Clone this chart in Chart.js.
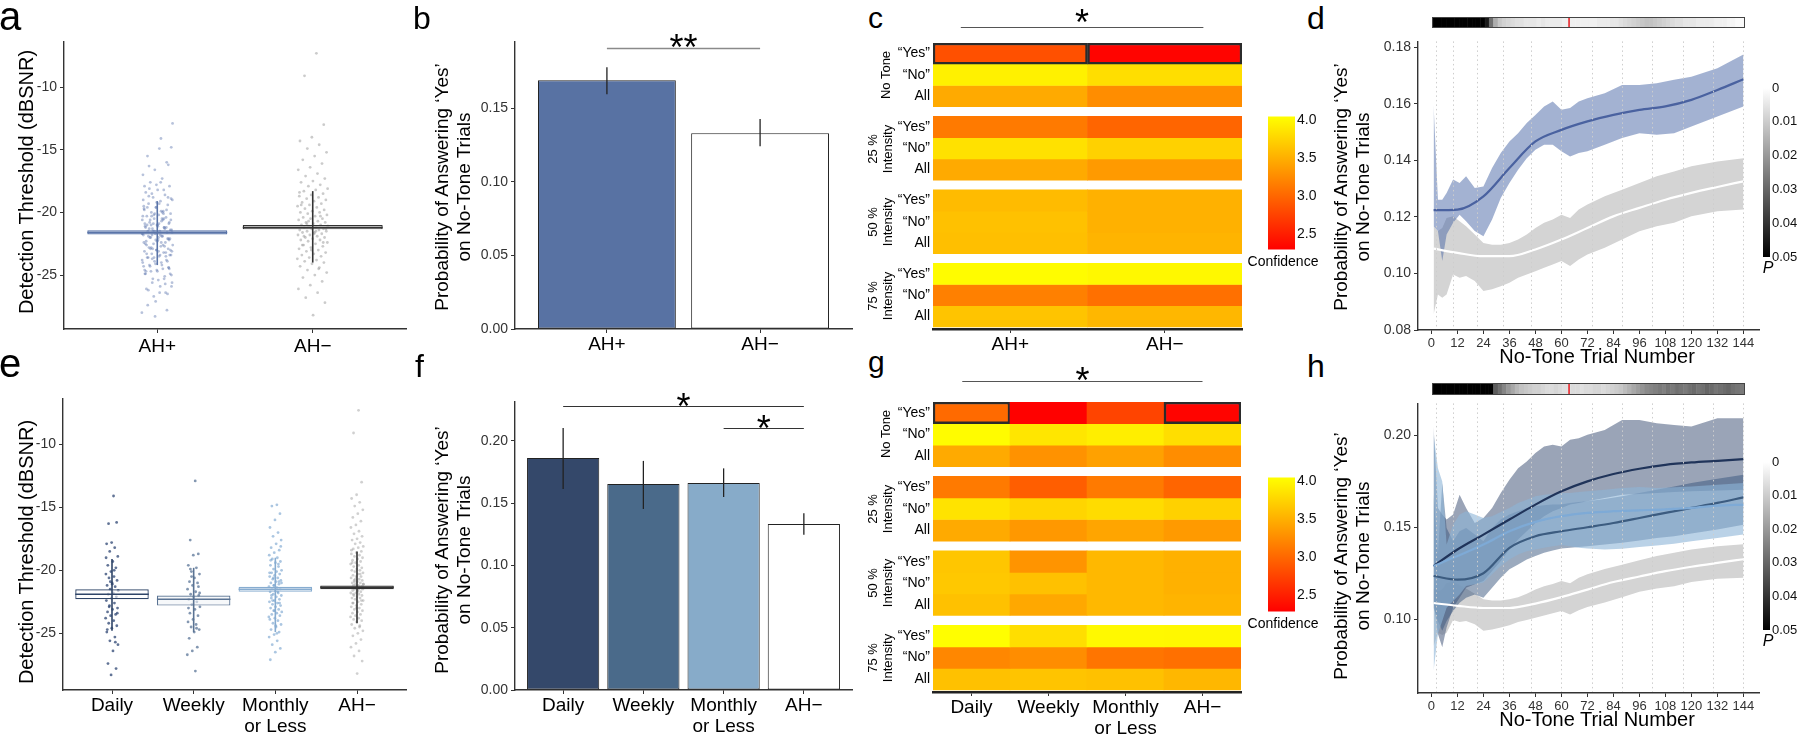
<!DOCTYPE html>
<html lang="en">
<head>
<meta charset="utf-8">
<title>Detection thresholds and false alarms</title>
<script src="https://cdn.jsdelivr.net/npm/chart.js@4.4.1/dist/chart.umd.min.js"></script>
<style>
  html, body { margin: 0; padding: 0; background: #fff; }
  #fig { position: relative; width: 1800px; height: 734px; overflow: hidden;
         font-family: "Liberation Sans", Arial, Helvetica, sans-serif; color: #000; }
  #fig canvas { position: absolute; }
  .lbl { position: absolute; white-space: nowrap; line-height: 1; }
  .rot { position: absolute; white-space: nowrap; text-align: center;
         transform: translate(-50%, -50%) rotate(-90deg); }
  .mid { position: absolute; white-space: nowrap; text-align: center;
         transform: translate(-50%, -50%); }
</style>
</head>
<body>
<div id="fig"></div>
<script>
// ---------- panels a / e : detection thresholds (dBSNR) ----------
const dailyThr = [-14.1, -16.3, -16.2, -17.8, -17.9, -18.2, -18.5, -18.9, -19.3, -19.6, -19.8, -20.1, -20.3, -20.5,
  -20.6, -20.8, -21.0, -21.2, -21.3, -21.5, -21.6, -21.8, -21.9, -22.1, -22.2, -22.4, -22.6, -22.8, -23.0, -23.1,
  -23.3, -23.5, -23.6, -23.8, -24.0, -24.2, -24.4, -24.6, -24.9, -25.3, -25.6, -25.9, -26.4, -27.4, -27.8, -28.3,
  -19.0, -20.0, -22.9, -23.4, -21.1, -24.7, -25.7, -20.9];
const weeklyThr = [-12.9, -17.6, -18.7, -18.8, -19.6, -19.8, -20.1, -20.3, -20.6, -20.9, -21.0, -21.2, -21.5, -21.7,
  -21.9, -22.0, -22.2, -22.3, -22.5, -22.7, -22.9, -23.1, -23.4, -23.6, -23.9, -24.1, -24.3, -24.5, -24.7, -24.9,
  -25.4, -26.1, -26.4, -26.7, -28.0, -19.9, -21.3, -22.1, -23.0, -24.6, -20.5, -21.8];
const monthlyThr = [-14.8, -14.9, -15.5, -16.0, -16.6, -17.0, -17.3, -17.6, -17.9, -18.2, -18.4, -18.6, -18.8, -19.0,
  -19.1, -19.3, -19.4, -19.6, -19.7, -19.9, -20.0, -20.1, -20.2, -20.3, -20.4, -20.5, -20.6, -20.7, -20.8, -20.9,
  -21.0, -21.1, -21.2, -21.3, -21.4, -21.5, -21.5, -21.6, -21.7, -21.8, -21.9, -22.0, -22.1, -22.2, -22.3, -22.4,
  -22.5, -22.6, -22.7, -22.8, -22.9, -23.0, -23.1, -23.2, -23.3, -23.4, -23.5, -23.6, -23.8, -23.9, -24.0, -24.2,
  -24.3, -24.5, -24.7, -24.9, -25.1, -25.3, -25.6, -25.9, -26.2, -26.5, -27.1, -19.5, -20.6, -21.0, -21.4, -22.0,
  -22.6, -23.2, -20.2, -21.7, -22.4, -18.1, -24.4, -19.2, -20.9, -21.2, -23.7, -25.0];
const ahMinusThr = [-7.3, -9.1, -13.0, -14.0, -14.3, -14.6, -14.9, -15.2, -15.5, -15.8, -16.1, -16.4, -16.6, -16.9,
  -17.1, -17.3, -17.5, -17.6, -17.8, -17.9, -18.1, -18.2, -18.3, -18.5, -18.6, -18.7, -18.8, -18.9, -19.0, -19.1,
  -19.2, -19.3, -19.4, -19.5, -19.6, -19.7, -19.8, -19.9, -20.0, -20.0, -20.1, -20.2, -20.3, -20.4, -20.5, -20.5,
  -20.6, -20.7, -20.8, -20.8, -20.9, -21.0, -21.0, -21.1, -21.1, -21.2, -21.2, -21.3, -21.3, -21.4, -21.4, -21.5,
  -21.5, -21.6, -21.6, -21.7, -21.8, -21.8, -21.9, -22.0, -22.0, -22.1, -22.2, -22.2, -22.3, -22.4, -22.5, -22.6,
  -22.7, -22.8, -22.9, -23.0, -23.1, -23.2, -23.3, -23.4, -23.5, -23.6, -23.7, -23.8, -23.9, -24.0, -24.1, -24.3,
  -24.4, -24.6, -24.8, -25.0, -25.2, -25.5, -25.8, -26.1, -26.4, -26.8, -27.2, -28.2, -19.4, -20.3, -20.7, -21.1,
  -21.5, -21.9, -22.4, -23.0, -18.4, -24.5, -20.9, -21.3, -21.7, -22.6];
const ahPlusThr = dailyThr.concat(weeklyThr, monthlyThr);

const groupsA = ['AH+', 'AH−'];
const boxLowA = [-21.75, -21.35];
const boxHighA = [-21.43, -21.0];
const boxMidA = [-21.6, -21.2];
const spreadLowA = [-24.2, -24.0];
const spreadHighA = [-19.1, -18.3];

const groupsE = ['Daily', 'Weekly', 'Monthly\nor Less', 'AH−'];
const boxLowE = [-22.3, -22.8, -21.7, -21.5];
const boxHighE = [-21.5, -22.0, -21.3, -21.2];
const boxMidE = [-21.9, -22.3, -21.5, -21.35];
const spreadLowE = [-24.8, -24.9, -24.9, -24.2];
const spreadHighE = [-19.1, -19.8, -19.0, -18.5];
const thrTicks = [-25, -20, -15, -10];

// ---------- panels b / f : P("yes") on no-tone trials ----------
const yesProbB = [0.169, 0.133];
const errLowB = [0.1595, 0.1242];
const errHighB = [0.1778, 0.1426];
const yesProbF = [0.1864, 0.1655, 0.1663, 0.1334];
const errLowF = [0.1615, 0.1454, 0.155, 0.1246];
const errHighF = [0.2104, 0.184, 0.178, 0.142];
const probTicksB = [0, 0.05, 0.10, 0.15];
const probTicksF = [0, 0.05, 0.10, 0.15, 0.20];
const sigB = [{ from: 1, to: 2, y: 0.191, label: '**' }];
const sigF = [{ from: 1, to: 4, y: 0.228, label: '*' }, { from: 3, to: 4, y: 0.2104, label: '*' }];

// ---------- panels c / g : mean confidence (rows: "Yes", "No", All) ----------
const rowLabels = ['“Yes”', '“No”', 'All'];
const colsC = ['AH+', 'AH−'];
const confC_noTone = [[2.84, 2.32], [3.95, 3.82], [3.46, 3.26]];
const confC_25 = [[3.13, 2.99], [3.84, 3.73], [3.46, 3.35]];
const confC_50 = [[3.58, 3.51], [3.62, 3.51], [3.61, 3.53]];
const confC_75 = [[4.03, 4.00], [3.17, 3.06], [3.64, 3.55]];
const colsG = ['Daily', 'Weekly', 'Monthly\nor Less', 'AH−'];
const confG_noTone = [[3.02, 2.30, 2.76, 2.32], [4.03, 3.88, 3.93, 3.82], [3.46, 3.30, 3.40, 3.26]];
const confG_25 = [[3.13, 2.94, 3.13, 2.99], [3.86, 3.76, 3.81, 3.73], [3.46, 3.34, 3.43, 3.35]];
const confG_50 = [[3.66, 3.31, 3.56, 3.51], [3.67, 3.62, 3.56, 3.51], [3.62, 3.45, 3.56, 3.53]];
const confG_75 = [[4.04, 3.82, 4.01, 4.00], [3.22, 3.26, 3.10, 3.06], [3.62, 3.64, 3.62, 3.55]];
const outlinedC = [[0, 0, 0], [0, 0, 1]];   // [group, row, column]
const outlinedG = [[0, 0, 0], [0, 0, 3]];
const sigC = [{ from: -0.32, to: 1.25, y: -0.75, label: '*' }];
const sigG = [{ from: -0.12, to: 3.0, y: -0.97, label: '*' }];
const confRange = [2.29, 4.05];
const confTicks = [2.5, 3.0, 3.5, 4.0];

// ---------- panels d / h : running P("yes") across no-tone trials ----------
const trialTicks = [0, 12, 24, 36, 48, 60, 72, 84, 96, 108, 120, 132, 144];
const sessionBreaks = [2, 10, 21, 33, 46, 60, 74, 88, 102, 116, 130, 144];
const tBand = [1, 3, 5, 7, 10, 13, 16, 20, 24, 28, 32, 36, 40, 44, 48, 52, 56, 60, 64, 68, 72, 80, 88, 96, 104, 112, 120, 132, 144];
const tFit = [1, 12, 24, 36, 48, 60, 72, 84, 96, 108, 120, 132, 144];

const ahPlusUpper = [0.1596, 0.1261, 0.1261, 0.1285, 0.1332, 0.1320, 0.1344, 0.1302, 0.1308, 0.1373, 0.1426, 0.1467,
  0.1496, 0.1532, 0.1561, 0.1591, 0.1608, 0.1579, 0.1585, 0.1608, 0.1620, 0.1638, 0.1667, 0.1667, 0.1673, 0.1685,
  0.1696, 0.1726, 0.1775];
const ahPlusLower = [0.1167, 0.1150, 0.1044, 0.1138, 0.1179, 0.1208, 0.1185, 0.1150, 0.1132, 0.1191, 0.1267, 0.1320,
  0.1367, 0.1408, 0.1438, 0.1455, 0.1455, 0.1432, 0.1414, 0.1426, 0.1432, 0.1455, 0.1479, 0.1496, 0.1491, 0.1496,
  0.1520, 0.1555, 0.1591];
const ahPlusFit = [0.1224, 0.1226, 0.1273, 0.1373, 0.1467, 0.1508, 0.1538, 0.1561, 0.1579, 0.1591, 0.1614, 0.1649, 0.1687];

const ahMinusUpper = [0.1167, 0.1150, 0.1161, 0.1196, 0.1202, 0.1185, 0.1167, 0.1138, 0.1108, 0.1102, 0.1102, 0.1108,
  0.1120, 0.1138, 0.1161, 0.1179, 0.1191, 0.1208, 0.1196, 0.1226, 0.1244, 0.1273, 0.1296, 0.1320, 0.1344, 0.1361,
  0.1379, 0.1396, 0.1408];
const ahMinusLower = [0.0855, 0.0926, 0.0914, 0.0926, 0.0996, 0.0985, 0.0991, 0.0973, 0.0938, 0.0944, 0.0955, 0.0967,
  0.0985, 0.0996, 0.1008, 0.1020, 0.1032, 0.1044, 0.1026, 0.1049, 0.1067, 0.1091, 0.1120, 0.1149, 0.1167, 0.1179,
  0.1202, 0.1220, 0.1226];
const ahMinusFit = [0.1088, 0.1073, 0.1061, 0.1061, 0.1085, 0.1120, 0.1161, 0.1202, 0.1232, 0.1261, 0.1285, 0.1306, 0.1326];

const dailyUpper = [0.2047, 0.1605, 0.1569, 0.1542, 0.1569, 0.1677, 0.1605, 0.1523, 0.1550, 0.1605, 0.1686, 0.1758,
  0.1821, 0.1857, 0.1903, 0.1939, 0.1948, 0.1939, 0.1975, 0.1984, 0.2002, 0.2029, 0.2083, 0.2083, 0.2065, 0.2056,
  0.2047, 0.2092, 0.2092];
const dailyLower = [0.1099, 0.0919, 0.0847, 0.0955, 0.1063, 0.1117, 0.1171, 0.1190, 0.1208, 0.1262, 0.1316, 0.1379,
  0.1433, 0.1478, 0.1523, 0.1560, 0.1587, 0.1605, 0.1623, 0.1632, 0.1641, 0.1659, 0.1677, 0.1680, 0.1686, 0.1691,
  0.1695, 0.1699, 0.1704];
const dailyFit = [0.1289, 0.1379, 0.1460, 0.1542, 0.1623, 0.1695, 0.1749, 0.1789, 0.1818, 0.1839, 0.1852, 0.1861, 0.1870];

const weeklyUpper = [0.1677, 0.1352, 0.1740, 0.1496, 0.1424, 0.1478, 0.1496, 0.1460, 0.1424, 0.1496, 0.1542, 0.1569,
  0.1587, 0.1605, 0.1614, 0.1619, 0.1623, 0.1623, 0.1632, 0.1637, 0.1641, 0.1653, 0.1668, 0.1686, 0.1704, 0.1722,
  0.1740, 0.1764, 0.1785];
const weeklyLower = [0.1063, 0.0991, 0.0937, 0.0991, 0.1045, 0.1090, 0.1117, 0.1135, 0.1117, 0.1171, 0.1226, 0.1271,
  0.1298, 0.1325, 0.1343, 0.1361, 0.1374, 0.1384, 0.1388, 0.1392, 0.1397, 0.1406, 0.1415, 0.1428, 0.1442, 0.1451,
  0.1466, 0.1487, 0.1514];
const weeklyFit = [0.1235, 0.1215, 0.1250, 0.1388, 0.1451, 0.1478, 0.1500, 0.1523, 0.1550, 0.1578, 0.1605, 0.1632, 0.1662];

const monthlyUpper = [0.2002, 0.1821, 0.1749, 0.1406, 0.1514, 0.1569, 0.1587, 0.1569, 0.1550, 0.1560, 0.1583, 0.1605,
  0.1632, 0.1650, 0.1668, 0.1677, 0.1680, 0.1686, 0.1686, 0.1691, 0.1695, 0.1704, 0.1713, 0.1718, 0.1713, 0.1717,
  0.1722, 0.1731, 0.1740];
const monthlyLower = [0.0720, 0.0919, 0.0991, 0.1063, 0.1099, 0.1135, 0.1180, 0.1190, 0.1199, 0.1244, 0.1289, 0.1325,
  0.1352, 0.1370, 0.1379, 0.1388, 0.1397, 0.1403, 0.1397, 0.1388, 0.1384, 0.1379, 0.1383, 0.1392, 0.1401, 0.1410,
  0.1424, 0.1442, 0.1460];
const monthlyFit = [0.1289, 0.1343, 0.1406, 0.1478, 0.1529, 0.1560, 0.1578, 0.1587, 0.1592, 0.1597, 0.1605, 0.1617, 0.1623];

// p-values of the group difference, one per 2-trial bin
const pStripD = [0.31, 0.22, 0.18, 0.15, 0.20, 0.16, 0.12, 0.14, 0.11, 0.09, 0.08, 0.066,
  0.045, 0.028, 0.016, 0.011,
  0.009, 0.008, 0.007, 0.006, 0.006, 0.005, 0.005, 0.005, 0.004, 0.005, 0.004, 0.004, 0.004, 0.004,
  0.003, 0.003, 0.003, 0.003, 0.003, 0.003, 0.003, 0.003, 0.004, 0.004, 0.004, 0.005, 0.005, 0.006, 0.007, 0.008, 0.009, 0.010,
  0.011, 0.012, 0.012, 0.011, 0.010, 0.009, 0.008, 0.007,
  0.006, 0.006, 0.005, 0.005, 0.005, 0.004, 0.004, 0.004, 0.004, 0.003, 0.003, 0.003, 0.002, 0.002, 0.001, 0.001];
const pStripH = [0.40, 0.30, 0.25, 0.20, 0.18, 0.20, 0.15, 0.13, 0.12, 0.10, 0.09, 0.08, 0.07, 0.06,
  0.032, 0.028, 0.024, 0.020, 0.017, 0.014,
  0.012, 0.011, 0.010, 0.009, 0.009, 0.008, 0.007, 0.007, 0.008, 0.007,
  0.006, 0.006, 0.007, 0.007, 0.006, 0.007, 0.007, 0.008, 0.008, 0.007, 0.008, 0.009, 0.010, 0.011, 0.013, 0.015,
  0.017, 0.019, 0.021, 0.023, 0.024, 0.025, 0.026, 0.025, 0.027, 0.026, 0.028, 0.027, 0.026, 0.028, 0.029, 0.027,
  0.028, 0.030, 0.029, 0.027, 0.028, 0.029, 0.030, 0.028, 0.027, 0.026];
const onsetTrial = 63;
const pTicks = [0, 0.01, 0.02, 0.03, 0.04, 0.05];

// ---------- helpers ----------
const FONT = '"Liberation Sans", Arial, Helvetica, sans-serif';
Chart.defaults.font.family = FONT;
Chart.defaults.color = '#333';
const fig = document.getElementById('fig');

function canvasAt(area, ext) {
  const c = document.createElement('canvas');
  const w = area[2] - area[0] + ext.l + ext.r;
  const h = area[3] - area[1] + ext.t + ext.b;
  c.width = w; c.height = h;
  c.style.left = (area[0] - ext.l) + 'px';
  c.style.top = (area[1] - ext.t) + 'px';
  c.style.width = w + 'px';
  c.style.height = h + 'px';
  fig.appendChild(c);
  return c;
}
const fixW = w => s => { s.width = w; };
const fixH = h => s => { s.height = h; };
const setTicks = vals => s => { s.ticks = vals.map(v => ({ value: v })); };
const axisLine = { display: true, color: '#333', width: 1.4 };
const tickMarks = { display: true, drawOnChartArea: false, drawTicks: true, tickLength: 4,
  tickColor: '#333', tickWidth: 1, offset: false };
const noGrid = { display: false, drawTicks: false, tickLength: 0 };
const jit = (i, amp) => ((((i + 1) * 0.6180339887) % 1) - 0.5) * 2 * amp;

function baseOptions(padding, plugins) {
  return { responsive: false, animation: false, events: [], layout: { padding },
    plugins: Object.assign({ legend: { display: false }, tooltip: { enabled: false } }, plugins || {}) };
}
function seg(pts, color, width) {
  return { type: 'line', data: pts, borderColor: color, borderWidth: width, pointRadius: 0,
    fill: false, tension: 0, order: 1 };
}
function heatColor(v) {
  const t = Math.max(0, Math.min(1, (v - confRange[0]) / (confRange[1] - confRange[0])));
  return 'rgb(255,' + Math.round(255 * t) + ',0)';
}
function pGray(p) {
  const g = Math.round(255 * (1 - Math.min(p, 0.05) / 0.05));
  return 'rgb(' + g + ',' + g + ',' + g + ')';
}

Chart.register({
  id: 'sig',
  afterDatasetsDraw(chart, args, o) {
    if (!o.items) return;
    const { ctx, scales: { x, y } } = chart;
    ctx.save();
    ctx.strokeStyle = o.color; ctx.lineWidth = o.width;
    ctx.fillStyle = '#000'; ctx.textAlign = 'center'; ctx.textBaseline = 'alphabetic';
    ctx.font = o.size + 'px ' + FONT;
    for (const s of o.items) {
      const x0 = x.getPixelForValue(s.from), x1 = x.getPixelForValue(s.to);
      const py = Math.round(y.getPixelForValue(s.y)) + 0.5;
      ctx.beginPath(); ctx.moveTo(x0, py); ctx.lineTo(x1, py); ctx.stroke();
      ctx.fillText(s.label, (x0 + x1) / 2, py + o.dy);
    }
    ctx.restore();
  }
}, {
  id: 'guides',
  afterDatasetsDraw(chart, args, o) {
    if (!o.values) return;
    const { ctx, chartArea: a, scales: { x } } = chart;
    ctx.save();
    ctx.strokeStyle = o.color; ctx.lineWidth = 1; ctx.setLineDash([1.5, 3]);
    for (const v of o.values) {
      const px = Math.round(x.getPixelForValue(v)) + 0.5;
      ctx.beginPath(); ctx.moveTo(px, a.top); ctx.lineTo(px, a.bottom - 1); ctx.stroke();
    }
    ctx.restore();
  }
}, {
  id: 'strip',
  afterDatasetsDraw(chart, args, o) {
    if (o.onset === undefined) return;
    const { ctx, chartArea: a, scales: { x } } = chart;
    ctx.save();
    const px = x.getPixelForValue(o.onset);
    ctx.strokeStyle = '#e8262a'; ctx.lineWidth = 1.6;
    ctx.beginPath(); ctx.moveTo(px, a.top); ctx.lineTo(px, a.bottom); ctx.stroke();
    ctx.strokeStyle = '#444'; ctx.lineWidth = 1;
    ctx.strokeRect(a.left - 0.5, a.top - 0.5, a.right - a.left + 1, a.bottom - a.top + 1);
    ctx.restore();
  }
});

// ---------- chart builders ----------
function threshPlot(area, ext, cats, groupVals, lo, hi, mid, sLo, sHi, yRange, sty) {
  const ds = [];
  groupVals.forEach((vals, g) => ds.push({
    type: 'scatter', data: vals.map((v, i) => ({ x: g + 1 + jit(i, sty.jitter), y: v })),
    pointRadius: 1.4, pointBorderWidth: 0, pointBackgroundColor: sty.dot[g], order: 6 }));
  ds.push({ type: 'bar', data: cats.map((c, g) => ({ x: g + 1, y: [lo[g], hi[g]] })),
    backgroundColor: sty.fill, borderColor: sty.line, borderWidth: 1.2, borderSkipped: false,
    barPercentage: 0.9, categoryPercentage: 1, order: 3 });
  cats.forEach((c, g) => {
    ds.push(seg([{ x: g + 0.55, y: mid[g] }, { x: g + 1.45, y: mid[g] }], sty.line[g], 1.6));
    ds.push(seg([{ x: g + 1, y: sLo[g] }, { x: g + 1, y: sHi[g] }], sty.line[g], 1.6));
  });
  const opts = baseOptions({ top: ext.t, right: ext.r, left: 0, bottom: 0 });
  opts.scales = {
    x: { type: 'linear', min: 0.4, max: cats.length + 0.6, offset: false,
      afterBuildTicks: setTicks(cats.map((c, i) => i + 1)), afterFit: fixH(ext.b),
      ticks: { callback: v => cats[v - 1].split('\n'), color: '#000', font: { size: 19, lineHeight: 1.08 },
        padding: sty.xPad, autoSkip: false, maxRotation: 0 },
      grid: tickMarks, border: axisLine },
    y: { type: 'linear', min: yRange[0], max: yRange[1], afterBuildTicks: setTicks(thrTicks), afterFit: fixW(ext.l),
      ticks: { font: { size: 14 }, color: '#333', padding: 3 }, grid: tickMarks, border: axisLine }
  };
  new Chart(canvasAt(area, ext), { type: 'bar', data: { datasets: ds }, options: opts });
}

function barPlot(area, ext, cats, means, eLo, eHi, colors, yMax, yTicks, sig, sigStyle) {
  const ds = [{ type: 'bar', data: cats.map((c, i) => ({ x: i + 1, y: means[i] })),
    backgroundColor: colors, borderColor: '#222', borderWidth: 1, borderSkipped: false,
    barPercentage: 0.9, categoryPercentage: 1, order: 3 }];
  cats.forEach((c, i) => ds.push(seg([{ x: i + 1, y: eLo[i] }, { x: i + 1, y: eHi[i] }], '#222', 1.3)));
  const opts = baseOptions({ top: ext.t, right: ext.r, left: 0, bottom: 0 },
    { sig: Object.assign({ items: sig }, sigStyle) });
  opts.scales = {
    x: { type: 'linear', min: 0.4, max: cats.length + 0.6, offset: false,
      afterBuildTicks: setTicks(cats.map((c, i) => i + 1)), afterFit: fixH(ext.b),
      ticks: { callback: v => cats[v - 1].split('\n'), color: '#000', font: { size: 19, lineHeight: 1.08 },
        padding: 2, autoSkip: false, maxRotation: 0 },
      grid: tickMarks, border: axisLine },
    y: { type: 'linear', min: 0, max: yMax, afterBuildTicks: setTicks(yTicks), afterFit: fixW(ext.l),
      ticks: { font: { size: 14 }, color: '#333', padding: 3, callback: v => v.toFixed(2) },
      grid: tickMarks, border: axisLine }
  };
  new Chart(canvasAt(area, ext), { type: 'bar', data: { datasets: ds }, options: opts });
}

const GROUP_GAP = 0.455;
function heatmap(area, ext, cols, groups, outlined, sig, sigDy) {
  const ds = [], rowTicks = [];
  groups.forEach((rows, g) => rows.forEach((vals, r) => {
    const y0 = g * (3 + GROUP_GAP) + r;
    rowTicks.push(y0 + 0.5);
    const hit = vals.map((v, c) => outlined.some(m => m[0] === g && m[1] === r && m[2] === c));
    ds.push({ data: vals.map(() => [y0, y0 + 1]), backgroundColor: vals.map(heatColor),
      borderColor: hit.map(h => h ? '#2b2b2b' : 'rgba(0,0,0,0)'), borderWidth: hit.map(h => h ? 2.5 : 0),
      borderSkipped: false, grouped: false, barPercentage: 1, categoryPercentage: 1,
      order: hit.some(Boolean) ? 0 : 1 });
  }));
  const opts = baseOptions({ top: ext.t, right: ext.r, left: 0, bottom: 0 },
    { sig: { items: sig, color: '#555', width: 1.2, size: 36, dy: sigDy } });
  opts.scales = {
    x: { offset: true, afterFit: fixH(ext.b),
      ticks: { color: '#000', font: { size: 19, lineHeight: 1.08 }, padding: 2, autoSkip: false, maxRotation: 0 },
      grid: tickMarks, border: { display: true, color: '#222', width: 2.5 } },
    y: { type: 'linear', reverse: true, min: 0, max: 4 * 3 + 3 * GROUP_GAP + 0.095,
      afterBuildTicks: setTicks(rowTicks), afterFit: fixW(ext.l),
      ticks: { callback: (v, i) => rowLabels[i % 3], color: '#000', font: { size: 14 }, padding: 3 },
      grid: noGrid, border: { display: false } }
  };
  new Chart(canvasAt(area, ext), { type: 'bar',
    data: { labels: cols.map(c => c.split('\n')), datasets: ds }, options: opts });
}

function colorBar(area, range, ticks, stops, reverse, fmt, size) {
  const ext = { l: 2, t: 10, r: 36, b: 10 };
  const opts = baseOptions({ top: ext.t, bottom: ext.b, left: ext.l, right: 0 });
  opts.scales = {
    x: { display: false },
    y: { position: 'right', min: range[0], max: range[1], reverse, afterBuildTicks: setTicks(ticks), afterFit: fixW(ext.r),
      ticks: { callback: fmt, color: '#111', font: { size }, padding: 2 },
      grid: noGrid, border: { display: false } }
  };
  new Chart(canvasAt(area, ext), { type: 'bar', data: { labels: [''], datasets: [{
    data: [[range[0], range[1]]], barPercentage: 1, categoryPercentage: 1, borderWidth: 0,
    backgroundColor: c => {
      const a = c.chart.chartArea;
      if (!a) return 'rgba(0,0,0,0)';
      const gr = c.chart.ctx.createLinearGradient(0, a.bottom, 0, a.top);
      stops.forEach(s => gr.addColorStop(s[0], s[1]));
      return gr;
    } }] }, options: opts });
}

function pStrip(area, pv, onset) {
  const ext = { l: 2, t: 2, r: 2, b: 2 };
  const colors = pv.map(pGray);
  const opts = baseOptions({ top: 2, bottom: 2, left: 2, right: 2 }, { strip: { onset } });
  opts.scales = { x: { type: 'linear', display: false, min: 0, max: 144, offset: false },
    y: { display: false, min: 0, max: 1 } };
  new Chart(canvasAt(area, ext), { type: 'bar', data: { datasets: [{
    data: pv.map((p, i) => ({ x: 2 * i + 1, y: 1 })), backgroundColor: colors, borderColor: colors,
    borderWidth: 0.6, barPercentage: 1, categoryPercentage: 1 }] }, options: opts });
}

function curvePlot(area, ext, yRange, yTicks, bands, fits) {
  const ds = [];
  bands.forEach((b, k) => {
    ds.push({ type: 'line', data: tBand.map((t, i) => ({ x: t, y: b.upper[i] })), fill: '+1',
      backgroundColor: b.color, borderColor: 'rgba(0,0,0,0)', borderWidth: 1, pointRadius: 0, tension: 0, order: 20 - k });
    ds.push({ type: 'line', data: tBand.map((t, i) => ({ x: t, y: b.lower[i] })), fill: false,
      borderColor: 'rgba(0,0,0,0)', borderWidth: 1, pointRadius: 0, tension: 0, order: 20 - k });
  });
  fits.forEach((f, k) => ds.push({ type: 'line', data: tFit.map((t, i) => ({ x: t, y: f.vals[i] })),
    borderColor: f.color, borderWidth: 2.2, pointRadius: 0, cubicInterpolationMode: 'monotone', fill: false, order: 5 - k }));
  const opts = baseOptions({ top: ext.t, right: ext.r, left: 0, bottom: 0 },
    { guides: { values: sessionBreaks, color: '#cdcdcd' } });
  opts.scales = {
    x: { type: 'linear', min: -6.2, max: 151.2, afterBuildTicks: setTicks(trialTicks), afterFit: fixH(ext.b),
      ticks: { callback: v => String(v), color: '#333', font: { size: 13 }, padding: 2, autoSkip: false, maxRotation: 0 },
      grid: tickMarks, border: axisLine },
    y: { type: 'linear', min: yRange[0], max: yRange[1], afterBuildTicks: setTicks(yTicks), afterFit: fixW(ext.l),
      ticks: { callback: v => v.toFixed(2), color: '#333', font: { size: 14 }, padding: 3 },
      grid: tickMarks, border: axisLine }
  };
  new Chart(canvasAt(area, ext), { type: 'line', data: { datasets: ds }, options: opts });
}

function txt(html, cls, x, y, size, extra) {
  const d = document.createElement('div');
  d.className = cls; d.innerHTML = html;
  d.style.left = x + 'px'; d.style.top = y + 'px'; d.style.fontSize = size + 'px';
  if (extra) Object.assign(d.style, extra);
  fig.appendChild(d);
}

// ---------- build ----------
threshPlot([64, 42, 406, 329], { l: 60, t: 14, r: 10, b: 40 }, groupsA, [ahPlusThr, ahMinusThr],
  boxLowA, boxHighA, boxMidA, spreadLowA, spreadHighA, [-29.3, -6.4],
  { jitter: 0.1, xPad: 4,
    dot: ['rgba(95,120,175,0.45)', 'rgba(140,140,140,0.45)'],
    fill: ['rgba(150,170,212,0.6)', 'rgba(236,236,236,0.85)'],
    line: ['#5a74a8', '#333333'] });
threshPlot([63, 399, 406, 690], { l: 60, t: 14, r: 10, b: 50 }, groupsE, [dailyThr, weeklyThr, monthlyThr, ahMinusThr],
  boxLowE, boxHighE, boxMidE, spreadLowE, spreadHighE, [-29.5, -6.4],
  { jitter: 0.08, xPad: 2,
    dot: ['rgba(45,70,115,0.75)', 'rgba(65,95,135,0.65)', 'rgba(115,160,205,0.6)', 'rgba(150,150,150,0.45)'],
    fill: ['rgba(255,255,255,0.6)', 'rgba(240,243,247,0.6)', 'rgba(226,236,246,0.6)', 'rgba(240,240,240,0.85)'],
    line: ['#2f4568', '#5a7393', '#87acd0', '#333333'] });

barPlot([515, 42, 852, 329], { l: 55, t: 40, r: 10, b: 40 }, groupsA, yesProbB, errLowB, errHighB,
  ['#5872a3', '#ffffff'], 0.195, probTicksB, sigB, { color: '#8a8a8a', width: 1.6, size: 36, dy: 11 });
barPlot([515, 402, 852, 690], { l: 55, t: 40, r: 10, b: 50 }, groupsE, yesProbF, errLowF, errHighF,
  ['#34486a', '#4a6a8a', '#87abc9', '#ffffff'], 0.2313, probTicksF, sigF, { color: '#333', width: 1.2, size: 36, dy: 12 });

heatmap([933, 43, 1242, 329], { l: 45, t: 40, r: 6, b: 40 }, colsC,
  [confC_noTone, confC_25, confC_50, confC_75], outlinedC, sigC, 7);
heatmap([933, 402, 1241, 692], { l: 45, t: 40, r: 6, b: 50 }, colsG,
  [confG_noTone, confG_25, confG_50, confG_75], outlinedG, sigG, 11);

const heatStops = [[0, '#ff0000'], [1, '#ffff00']];
colorBar([1268, 116, 1295, 250], confRange, confTicks, heatStops, false, v => v.toFixed(1), 14);
colorBar([1268, 477, 1295, 612], confRange, confTicks, heatStops, false, v => v.toFixed(1), 14);

curvePlot([1418, 40, 1759, 330], { l: 50, t: 10, r: 8, b: 30 }, [0.08, 0.1821], [0.08, 0.10, 0.12, 0.14, 0.16, 0.18],
  [{ upper: ahMinusUpper, lower: ahMinusLower, color: '#d4d4d4' },
   { upper: ahPlusUpper, lower: ahPlusLower, color: 'rgba(72,102,165,0.5)' }],
  [{ vals: ahPlusFit, color: '#4a62a0' }, { vals: ahMinusFit, color: '#ffffff' }]);
curvePlot([1418, 402, 1759, 693], { l: 50, t: 10, r: 8, b: 30 }, [0.0599, 0.2173], [0.10, 0.15, 0.20],
  [{ upper: ahMinusUpper, lower: ahMinusLower, color: '#d4d4d4' },
   { upper: dailyUpper, lower: dailyLower, color: 'rgba(100,115,145,0.65)' },
   { upper: weeklyUpper, lower: weeklyLower, color: 'rgba(55,85,125,0.5)' },
   { upper: monthlyUpper, lower: monthlyLower, color: 'rgba(140,180,215,0.6)' }],
  [{ vals: dailyFit, color: '#20345a' }, { vals: weeklyFit, color: '#3c5c80' },
   { vals: monthlyFit, color: '#7eaad6' }, { vals: ahMinusFit, color: '#ffffff' }]);

pStrip([1433, 18, 1744, 27], pStripD, onsetTrial);
pStrip([1433, 384, 1744, 394], pStripH, onsetTrial);
const pStops = [[0, '#000000'], [1, '#ffffff']];
const pFmt = v => (v === 0 ? '0' : v.toFixed(2));
colorBar([1763, 88, 1770, 257], [0, 0.05], pTicks, pStops, true, pFmt, 13);
colorBar([1763, 462, 1770, 630], [0, 0.05], pTicks, pStops, true, pFmt, 13);

// ---------- text ----------
txt('a', 'lbl', -1, -4, 40); txt('b', 'lbl', 413, 2, 32); txt('c', 'lbl', 868, 3, 30); txt('d', 'lbl', 1307, 2, 32);
txt('e', 'lbl', -1, 343, 40); txt('f', 'lbl', 415, 350, 32); txt('g', 'lbl', 868, 347, 30); txt('h', 'lbl', 1307, 350, 32);

txt('Detection Threshold (dBSNR)', 'rot', 26, 182, 20);
txt('Detection Threshold (dBSNR)', 'rot', 26, 552, 20);
const probTitle = 'Probability of Answering ‘Yes’<br>on No-Tone Trials';
txt(probTitle, 'rot', 453, 187, 19, { lineHeight: '22px' });
txt(probTitle, 'rot', 453, 550, 19, { lineHeight: '22px' });
txt(probTitle, 'rot', 1352, 187, 19, { lineHeight: '22px' });
txt(probTitle, 'rot', 1352, 556, 19, { lineHeight: '22px' });
txt('No-Tone Trial Number', 'mid', 1597, 356, 20);
txt('No-Tone Trial Number', 'mid', 1597, 719, 20);

const groupNames = ['No Tone', '25 %<br>Intensity', '50 %<br>Intensity', '75 %<br>Intensity'];
[75, 149, 222, 296].forEach((y, i) => txt(groupNames[i], 'rot', i ? 880 : 885, y, 13, { lineHeight: '15px' }));
[434, 509, 583, 658].forEach((y, i) => txt(groupNames[i], 'rot', i ? 880 : 885, y, 13, { lineHeight: '15px' }));
txt('Confidence', 'mid', 1283, 261, 14);
txt('Confidence', 'mid', 1283, 623, 14);
txt('P', 'mid', 1768, 268, 16, { fontStyle: 'italic' });
txt('P', 'mid', 1768, 641, 16, { fontStyle: 'italic' });
</script>
</body>
</html>
